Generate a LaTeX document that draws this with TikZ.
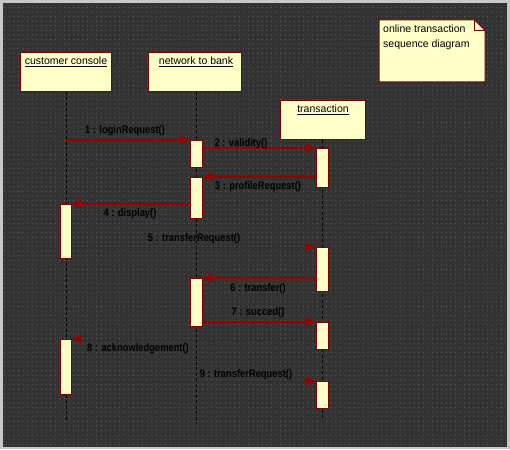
\documentclass[tikz,border=0pt]{standalone}
\usepackage{fontspec}
\setmainfont{Liberation Sans}
\usetikzlibrary{patterns.meta,arrows.meta,calc}
\definecolor{bgdark}{HTML}{333333}
\definecolor{bgdot}{HTML}{666666}
\definecolor{edge}{HTML}{C8C8C8}
\definecolor{boxfill}{HTML}{FFFFC8}
\definecolor{boxline}{HTML}{800000}
\definecolor{msgred}{HTML}{990000}
\newcommand{\msgtxt}[1]{\scalebox{0.85}[1]{\bfseries\fontsize{11}{12}\selectfont #1}}
\tikzset{
  objbox/.style={draw=boxline, line width=1pt, fill=boxfill, inner sep=0pt, anchor=north west},
  objlabel/.style={font=\fontsize{10.5}{12}\selectfont, text=black, inner sep=0pt, anchor=north},
  lifeline/.style={draw=black, line width=0.8pt, dash pattern=on 3pt off 2.5pt},
  actbar/.style={draw=boxline, line width=1pt, fill=boxfill, inner sep=0pt, minimum width=12pt, anchor=north},
  msgthick/.style={draw=msgred, line width=1.5pt, -{Triangle[length=10pt,width=8pt]}},
  msgthin/.style={draw=msgred, line width=0.8pt, -{Triangle[length=10pt,width=8pt,line width=0.8pt]}},
  msglabel/.style={text=black, inner sep=0pt},
  notetext/.style={font=\fontsize{10.5}{15}\selectfont, text=black, inner sep=0pt, anchor=north west, align=left}
}
\begin{document}
\begin{tikzpicture}[x=1pt,y=-1pt]
\useasboundingbox (0,0) rectangle (510,449);
% background
\fill[edge] (0,0) rectangle (510,449);
\fill[bgdark] (3,3) rectangle (506,446);
\fill[pattern={Dots[radius=0.55pt,distance=4.6pt]}, pattern color=bgdot] (4,4) rectangle (506,446);
\draw[black!80, line width=1pt] (3.5,3.5) rectangle (506,446);

% note
\filldraw[draw=boxline, line width=1pt, fill=boxfill]
  (379,20) -- (474.5,20) -- (485,30.5) -- (485,82) -- (379,82) -- cycle;
\draw[boxline, line width=0.8pt] (474.5,20) -- (474.5,30.5) -- (485,30.5);
\node[notetext] (note) at (383,25) {online transaction\\sequence diagram};

% object boxes
\node[objbox, minimum width=91pt, minimum height=39pt] (cc) at (20,52) {};
\node[objbox, minimum width=93pt, minimum height=39pt] (nb) at (148,52) {};
\node[objbox, minimum width=85pt, minimum height=39pt] (tr) at (280,100) {};
\node[objlabel] (cct) at (66,57) {\underline{customer console}};
\node[objlabel] (nbt) at (196,57) {\underline{network to bank}};
\node[objlabel] (trt) at (323,105) {\underline{transaction}};

% lifelines
\coordinate (ccend) at (66,420);
\coordinate (nbend) at (196,423);
\coordinate (trend) at (322,420);
\draw[lifeline] (cc.south -| ccend) -- (ccend);
\draw[lifeline] (nb.south -| nbend) -- (nbend);
\draw[lifeline] (tr.south -| trend) -- (trend);

% activation bars
\node[actbar, minimum height=27pt] (nb1) at (196,140) {};
\node[actbar, minimum height=41pt] (nb2) at (196,177) {};
\node[actbar, minimum height=48pt] (nb3) at (196,278) {};
\node[actbar, minimum height=54pt, minimum width=11pt] (cb1) at (65.5,204) {};
\node[actbar, minimum height=55pt, minimum width=11pt] (cb2) at (65.5,339) {};
\node[actbar, minimum height=39pt] (tb1) at (322,148) {};
\node[actbar, minimum height=44pt] (tb2) at (322,247) {};
\node[actbar, minimum height=27pt] (tb3) at (322,322) {};
\node[actbar, minimum height=27pt] (tb4) at (322,381) {};

% messages
\draw[msgthick] (ccend |- nb1.north) -- (nb1.north west);
\draw[msgthick] (nb1.east |- tb1.north) -- (tb1.north west);
\draw[msgthick] (tb1.west |- nb2.north) -- (nb2.north east);
\draw[msgthick] (nb2.west |- cb1.north) -- (cb1.north east);
\draw[msgthin]  (cb1.east |- tb2.north) -- (tb2.north west);
\draw[msgthick] (tb2.west |- nb3.north) -- (nb3.north east);
\draw[msgthick] (nb3.east |- tb3.north) -- (tb3.north west);
\draw[msgthin]  (tb3.west |- cb2.north) -- (cb2.north east);
\draw[msgthin]  (cb2.east |- tb4.north) -- (tb4.north west);

% message labels
\node[msglabel] (l1) at (125,131) {\msgtxt{1 : loginRequest()}};
\node[msglabel] (l2) at (241,144) {\msgtxt{2 : validity()}};
\node[msglabel] (l3) at (258,187) {\msgtxt{3 : profileRequest()}};
\node[msglabel] (l4) at (130,214) {\msgtxt{4 : display()}};
\node[msglabel] (l5) at (194,239) {\msgtxt{5 : transferRequest()}};
\node[msglabel] (l6) at (258,289) {\msgtxt{6 : transfer()}};
\node[msglabel] (l7) at (258,313) {\msgtxt{7 : succed()}};
\node[msglabel] (l8) at (138,349) {\msgtxt{8 : acknowledgement()}};
\node[msglabel] (l9) at (246,375) {\msgtxt{9 : transferRequest()}};
\end{tikzpicture}
\end{document}
